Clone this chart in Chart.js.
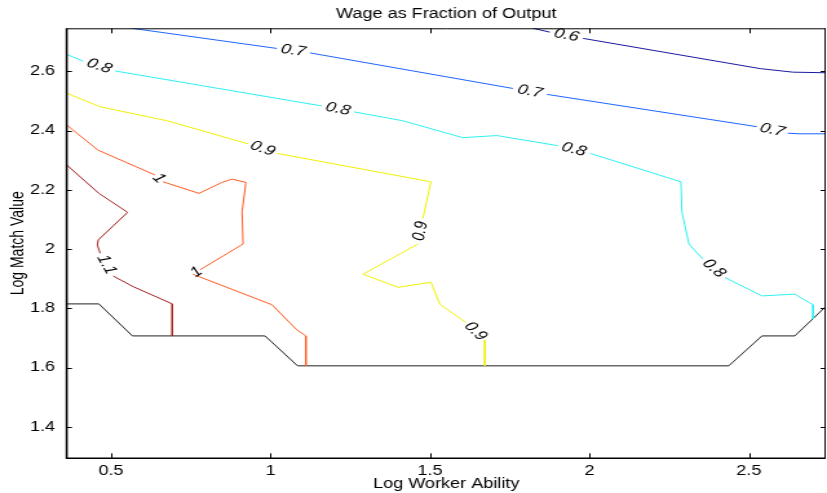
<!DOCTYPE html>
<html>
<head>
<meta charset="utf-8">
<title>Wage as Fraction of Output</title>
<script src="https://cdn.jsdelivr.net/npm/chart.js@4.4.1/dist/chart.umd.min.js"></script>
<style>
    html, body { margin: 0; padding: 0; background: #fff; overflow: hidden; }
    /* the figure is laid out at 640px and widened to the window */
    #wrap { width: 640px; height: 493px; transform: scaleX(1.2922); transform-origin: 0 0; }
    canvas { display: block; }
</style>
</head>
<body>
<div id="wrap"><canvas id="wage-chart" width="640" height="493"></canvas></div>
<script>
// Axis limits and ticks
const xRange = [0.361, 2.741];
const yRange = [1.294, 2.745];
const xTicks = [0.5, 1, 1.5, 2, 2.5];
const xTickLabels = ['0.5', '1', '1.5', '2', '2.5'];
const yTicks = [1.4, 1.6, 1.8, 2, 2.2, 2.4, 2.6];
const yTickLabels = ['1.4', '1.6', '1.8', '2', '2.2', '2.4', '2.6'];

// Contour levels of wage / output
const levels = [0.6, 0.7, 0.8, 0.9, 1, 1.1];
const levelText = ['0.6', '0.7', '0.8', '0.9', '1', '1.1'];
const levelColors = ['#1a1aa0', '#1e64ff', '#2ef0f0', '#f0f000', '#ff5a20', '#a52020'];

// Each contour is a list of pieces of [log ability, log match value];
// a label sits in every gap between two pieces
const wage06 = [
    [[1.823, 2.745], [1.876, 2.732]],
    [[1.980, 2.711], [2.535, 2.609], [2.638, 2.597], [2.741, 2.595]]
];
const wage07 = [
    [[0.566, 2.745], [1.020, 2.677]],
    [[1.124, 2.662], [1.760, 2.542]],
    [[1.867, 2.522], [2.525, 2.413]],
    [[2.622, 2.391], [2.660, 2.389], [2.741, 2.389]]
];
const wage08 = [
    [[0.361, 2.657], [0.413, 2.634]],
    [[0.513, 2.601], [1.161, 2.483]],
    [[1.262, 2.463], [1.415, 2.433], [1.603, 2.376], [1.710, 2.383], [1.901, 2.349]],
    [[2.002, 2.323], [2.287, 2.227], [2.290, 2.126], [2.312, 2.017], [2.356, 1.966]],
    [[2.425, 1.904], [2.541, 1.842], [2.644, 1.848], [2.701, 1.812], [2.701, 1.765]]
];
const wage09 = [
    [[0.361, 2.526], [0.466, 2.480], [0.676, 2.433], [0.930, 2.355]],
    [[1.020, 2.323], [1.503, 2.227], [1.478, 2.104]],
    [[1.462, 2.017], [1.290, 1.915], [1.400, 1.871], [1.503, 1.888], [1.531, 1.814], [1.613, 1.752]],
    [[1.672, 1.693], [1.672, 1.606]]
];
const wage10 = [
    [[0.361, 2.419], [0.459, 2.334], [0.638, 2.250]],
    [[0.663, 2.227], [0.776, 2.188], [0.848, 2.225], [0.879, 2.236], [0.923, 2.225],
     [0.911, 2.126], [0.914, 2.017], [0.779, 1.930]],
    [[0.757, 1.915], [1.005, 1.812], [1.083, 1.727], [1.111, 1.707], [1.111, 1.606]]
];
const wage11 = [
    [[0.361, 2.284], [0.462, 2.188], [0.552, 2.124], [0.460, 2.031], [0.457, 2.014], [0.466, 1.986]],
    [[0.507, 1.909], [0.570, 1.873], [0.692, 1.815], [0.692, 1.707]]
];
const contours = [wage06, wage07, wage08, wage09, wage10, wage11];

// Edge of the region where matches form
const boundary = [
    [0.361, 1.815], [0.462, 1.815], [0.567, 1.707], [0.983, 1.707], [1.085, 1.606],
    [2.437, 1.606], [2.541, 1.707], [2.644, 1.707], [2.741, 1.806]
];

Chart.defaults.font.family = '"Liberation Sans", Arial, Helvetica, sans-serif';
Chart.defaults.font.size = 14;
Chart.defaults.color = '#000';

// Join the pieces with a null point so the line breaks at each label gap
function joinPieces(pieces) {
    const out = [];
    pieces.forEach((piece, i) => {
        if (i > 0) out.push([piece[0][0], null]);
        piece.forEach(p => out.push(p));
    });
    return out;
}

// Draws the level value in each gap, turned along the line
const contourLabels = {
    id: 'contourLabels',
    afterDatasetsDraw(chart) {
        const { ctx, scales: { x, y } } = chart;
        ctx.save();
        ctx.font = 'italic 14px "Liberation Sans", Arial, sans-serif';
        ctx.fillStyle = '#000';
        ctx.textAlign = 'center';
        ctx.textBaseline = 'middle';
        contours.forEach((pieces, i) => {
            for (let k = 0; k + 1 < pieces.length; k++) {
                const a = pieces[k][pieces[k].length - 1];
                const b = pieces[k + 1][0];
                const ax = x.getPixelForValue(a[0]), ay = y.getPixelForValue(a[1]);
                const bx = x.getPixelForValue(b[0]), by = y.getPixelForValue(b[1]);
                let ang = Math.atan2(by - ay, bx - ax);
                if (ang > Math.PI / 2) ang -= Math.PI;
                if (ang < -Math.PI / 2) ang += Math.PI;
                ctx.save();
                ctx.translate((ax + bx) / 2, (ay + by) / 2);
                ctx.rotate(ang);
                ctx.fillText(levelText[i], 0, 0);
                ctx.restore();
            }
        });
        ctx.restore();
    }
};

// Box around the plot with inward ticks on all four sides
const axesBox = {
    id: 'axesBox',
    afterDraw(chart) {
        const { ctx, chartArea: { left, right, top, bottom }, scales: { x, y } } = chart;
        ctx.save();
        ctx.strokeStyle = '#000';
        ctx.lineWidth = 1;
        ctx.beginPath();
        xTicks.forEach(v => {
            const px = Math.round(x.getPixelForValue(v)) + 0.5;
            ctx.moveTo(px, bottom); ctx.lineTo(px, bottom - 5);
            ctx.moveTo(px, top); ctx.lineTo(px, top + 5);
        });
        yTicks.forEach(v => {
            const py = Math.round(y.getPixelForValue(v)) + 0.5;
            ctx.moveTo(left, py); ctx.lineTo(left + 4, py);
            ctx.moveTo(right, py); ctx.lineTo(right - 4, py);
        });
        ctx.moveTo(left, top + 0.5); ctx.lineTo(right, top + 0.5);
        ctx.moveTo(right - 0.5, top); ctx.lineTo(right - 0.5, bottom);
        ctx.stroke();

        ctx.lineWidth = 1.6;
        ctx.beginPath();
        ctx.moveTo(left, top);
        ctx.lineTo(left, bottom);
        ctx.lineTo(right, bottom);
        ctx.stroke();
        ctx.restore();
    }
};

const datasets = contours.map((pieces, i) => ({
    label: levelText[i],
    data: joinPieces(pieces),
    borderColor: levelColors[i],
    borderWidth: 1,
    showLine: true,
    spanGaps: false,
    pointRadius: 0,
    tension: 0
}));
datasets.push({
    label: 'boundary',
    data: boundary,
    borderColor: '#222',
    borderWidth: 1,
    showLine: true,
    pointRadius: 0,
    tension: 0
});

new Chart(document.getElementById('wage-chart'), {
    type: 'scatter',
    data: { datasets },
    options: {
        responsive: false,
        animation: false,
        events: [],
        layout: { padding: { left: 0, right: 1, top: 0, bottom: 0 } },
        plugins: {
            legend: { display: false },
            tooltip: { enabled: false },
            title: {
                display: true,
                text: 'Wage as Fraction of Output',
                fullSize: false,
                color: '#000',
                font: { size: 14, weight: 'normal' },
                padding: { top: 5.5, bottom: 6 }
            }
        },
        scales: {
            x: {
                type: 'linear',
                min: xRange[0],
                max: xRange[1],
                grid: { display: false, drawTicks: false },
                border: { display: false },
                ticks: {
                    padding: 4.3,
                    maxRotation: 0,
                    callback: v => {
                        const i = xTicks.indexOf(v);
                        return i >= 0 ? xTickLabels[i] : '';
                    }
                },
                afterBuildTicks: s => { s.ticks = xTicks.map(v => ({ value: v })); },
                afterFit: s => { s.height = 34.7; },
                title: {
                    display: true,
                    text: 'Log Worker Ability',
                    font: { size: 14 },
                    padding: { top: 0, bottom: 0 }
                }
            },
            y: {
                type: 'linear',
                min: yRange[0],
                max: yRange[1],
                grid: { display: false, drawTicks: false },
                border: { display: false },
                ticks: {
                    padding: 9,
                    callback: v => {
                        const i = yTicks.indexOf(v);
                        return i >= 0 ? yTickLabels[i] : '';
                    }
                },
                afterBuildTicks: s => { s.ticks = yTicks.map(v => ({ value: v })); },
                afterFit: s => { s.width = 51.6; },
                title: {
                    display: true,
                    text: 'Log Match Value',
                    font: { size: 14 },
                    padding: { top: 5.9, bottom: 0 }
                }
            }
        }
    },
    plugins: [contourLabels, axesBox]
});
</script>
</body>
</html>
